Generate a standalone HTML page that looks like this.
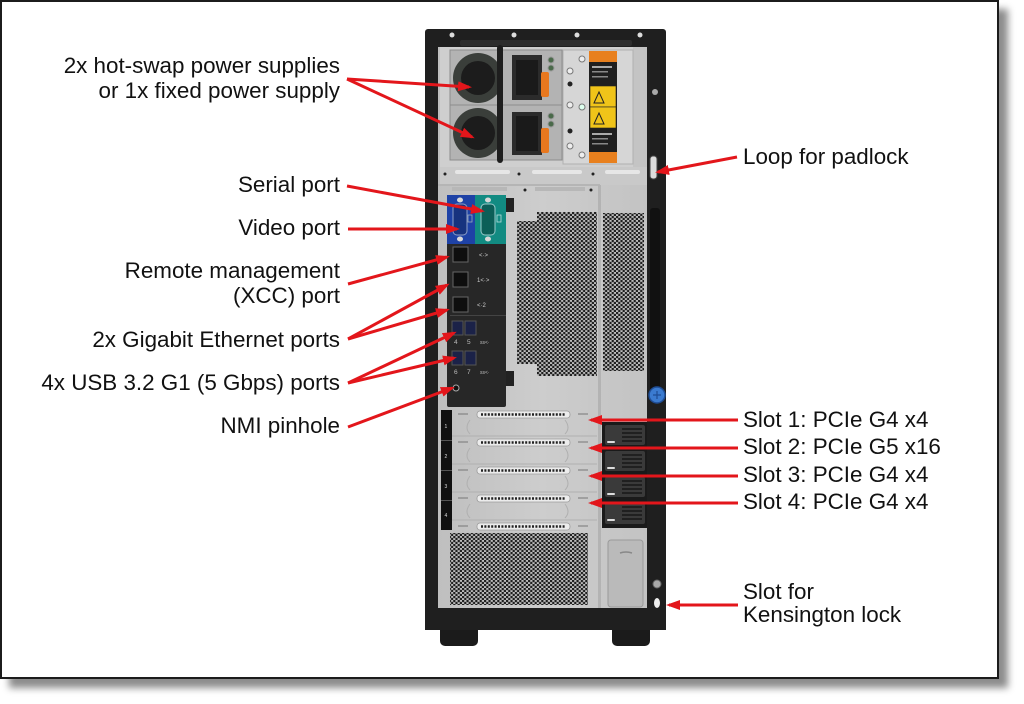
<!DOCTYPE html>
<html><head><meta charset="utf-8"><style>
html,body{margin:0;padding:0;background:#fff;}
body{width:1024px;height:704px;overflow:hidden;position:relative;font-family:"Liberation Sans",Arial,sans-serif;}
.frame{position:absolute;left:0;top:0;width:995px;height:675px;border:2px solid #1c1c1c;background:#fff;box-shadow:9px 9px 7px rgba(0,0,0,0.45);}
svg{position:absolute;left:0;top:0;}
</style></head><body>
<div class="frame"></div>
<svg width="1024" height="704" viewBox="0 0 1024 704" xmlns="http://www.w3.org/2000/svg">
<defs>
<pattern id="mesh" width="4.4" height="4" patternUnits="userSpaceOnUse">
<rect width="4.4" height="4" fill="#bdbdbd"/>
<circle cx="1.1" cy="1" r="1.25" fill="#1e1e1e"/>
<circle cx="3.3" cy="3" r="1.25" fill="#1e1e1e"/>
</pattern>
<marker id="ah" viewBox="0 0 14 10" refX="11" refY="5" markerWidth="14" markerHeight="10" markerUnits="userSpaceOnUse" orient="auto">
<path d="M0,0 L14,5 L0,10 z" fill="#e3161b"/>
</marker>
<linearGradient id="pg" x1="0" y1="0" x2="1" y2="0">
<stop offset="0" stop-color="#bfbfbf"/><stop offset="0.5" stop-color="#cdcdcd"/><stop offset="1" stop-color="#c3c3c3"/>
</linearGradient>
</defs>

<!-- feet -->
<rect x="440" y="622" width="38" height="24" rx="5" fill="#1b1b1b"/>
<rect x="612" y="622" width="38" height="24" rx="5" fill="#1b1b1b"/>
<!-- outer chassis -->
<rect x="425" y="29" width="241" height="601" rx="3" fill="#1f1f1f"/>
<rect x="460" y="40" width="172" height="6" rx="2" fill="#2e2e2e"/>
<circle cx="452" cy="35" r="2.5" fill="#ddd"/>
<circle cx="514" cy="35" r="2.5" fill="#ddd"/>
<circle cx="577" cy="35" r="2.5" fill="#ddd"/>
<circle cx="640" cy="35" r="2.5" fill="#ddd"/>
<!-- inner gray panel -->
<rect x="438" y="47" width="209" height="561" fill="url(#pg)"/>
<!-- PSU bay -->
<rect x="440" y="47" width="193" height="120" fill="#cfcfcf"/>
<rect x="563" y="50" width="70" height="114" fill="#d6d6d6" stroke="#b0b0b0" stroke-width="1"/>
<!-- PSU 1 -->
<rect x="450" y="50" width="112" height="55" fill="#b3b3b3" stroke="#8c8c8c"/>
<circle cx="478" cy="78" r="25" fill="#3a3e3a"/>
<circle cx="478" cy="78" r="17" fill="#1c1c1c"/>
<rect x="512" y="55" width="30" height="45" fill="#2b2b2b"/>
<rect x="516" y="60" width="22" height="35" fill="#1a1a1a"/>
<rect x="541" y="72" width="8" height="25" rx="2" fill="#e8781f"/>
<circle cx="551" cy="60" r="3" fill="#4a6a4a" stroke="#999"/>
<circle cx="551" cy="68" r="3" fill="#4a6a4a" stroke="#999"/>
<!-- PSU 2 -->
<rect x="450" y="105" width="112" height="55" fill="#b3b3b3" stroke="#8c8c8c"/>
<circle cx="478" cy="133" r="25" fill="#3a3e3a"/>
<circle cx="478" cy="133" r="17" fill="#1c1c1c"/>
<rect x="512" y="112" width="30" height="43" fill="#2b2b2b"/>
<rect x="516" y="116" width="22" height="35" fill="#1a1a1a"/>
<rect x="541" y="128" width="8" height="25" rx="2" fill="#e8781f"/>
<circle cx="551" cy="116" r="3" fill="#4a6a4a" stroke="#999"/>
<circle cx="551" cy="124" r="3" fill="#4a6a4a" stroke="#999"/>
<!-- handle -->
<rect x="497" y="45" width="6" height="118" rx="3" fill="#1e1e1e"/>
<!-- screws in PSU area -->
<circle cx="582" cy="59" r="3" fill="#eee" stroke="#777"/>
<circle cx="570" cy="71" r="3" fill="#eee" stroke="#777"/>
<circle cx="570" cy="84" r="2.5" fill="#222"/>
<circle cx="570" cy="105" r="3" fill="#eee" stroke="#777"/>
<circle cx="582" cy="107" r="3" fill="#dfe" stroke="#777"/>
<circle cx="570" cy="131" r="2.5" fill="#222"/>
<circle cx="570" cy="146" r="3" fill="#eee" stroke="#777"/>
<circle cx="582" cy="155" r="3" fill="#eee" stroke="#777"/>
<!-- orange label -->
<rect x="589" y="51" width="28" height="112" fill="#1f1f1f"/>
<rect x="589" y="51" width="28" height="11" fill="#e8801e"/>
<rect x="589" y="152" width="28" height="11" fill="#e8801e"/>
<rect x="590" y="86" width="26" height="21" fill="#f0c419" stroke="#222" stroke-width="0.6"/>
<rect x="590" y="107" width="26" height="21" fill="#f0c419" stroke="#222" stroke-width="0.6"/>
<path d="M594,103 L599,92 L604,103 z" fill="none" stroke="#222"/>
<path d="M594,124 L599,113 L604,124 z" fill="none" stroke="#222"/>
<rect x="592" y="66" width="20" height="2" fill="#aaa"/>
<rect x="592" y="71" width="16" height="1.5" fill="#888"/>
<rect x="592" y="76" width="16" height="1.5" fill="#888"/>
<rect x="592" y="133" width="20" height="2" fill="#aaa"/>
<rect x="592" y="138" width="16" height="1.5" fill="#888"/>
<rect x="592" y="143" width="16" height="1.5" fill="#888"/>
<!-- strip below PSU -->
<rect x="440" y="167" width="207" height="18" fill="#c9c9c9"/>
<rect x="455" y="170" width="55" height="4" rx="2" fill="#e6e6e6"/>
<rect x="532" y="170" width="50" height="4" rx="2" fill="#e6e6e6"/>
<rect x="605" y="170" width="35" height="4" rx="2" fill="#e6e6e6"/>
<circle cx="445" cy="174" r="1.5" fill="#222"/>
<circle cx="519" cy="174" r="1.5" fill="#222"/>
<circle cx="593" cy="174" r="1.5" fill="#222"/>
<rect x="438" y="184" width="162" height="2" fill="#b5b5b5"/>
<rect x="452" y="187" width="55" height="4" fill="#b7b7b7"/>
<rect x="535" y="187" width="50" height="4" fill="#b7b7b7"/>
<circle cx="525" cy="190" r="1.5" fill="#222"/>
<circle cx="591" cy="190" r="1.5" fill="#222"/>
<!-- divider -->
<rect x="598" y="185" width="3" height="423" fill="#b3b3b3"/>
<!-- I/O panel -->
<rect x="447" y="195" width="59" height="212" rx="2" fill="#272727"/>
<rect x="447" y="195" width="28" height="49" fill="#1e42a6"/>
<rect x="475" y="195" width="31" height="49" fill="#128b82"/>
<rect x="453" y="204" width="14" height="31" rx="4" fill="#17337f" stroke="#8fa0c8" stroke-width="1"/>
<ellipse cx="460" cy="200" rx="3" ry="2.5" fill="#d8d8d8"/>
<ellipse cx="460" cy="239" rx="3" ry="2.5" fill="#d8d8d8"/>
<rect x="481" y="204" width="14" height="31" rx="4" fill="#0c5f58" stroke="#9cc" stroke-width="1"/>
<ellipse cx="488" cy="200" rx="3" ry="2.5" fill="#d8d8d8"/>
<ellipse cx="488" cy="239" rx="3" ry="2.5" fill="#d8d8d8"/>
<rect x="468" y="215" width="4" height="7" fill="none" stroke="#9ab" stroke-width="0.8"/>
<rect x="497" y="215" width="4" height="7" fill="none" stroke="#bdd" stroke-width="0.8"/>
<!-- RJ45 -->
<rect x="453" y="247" width="15" height="15" fill="#0e0e0e" stroke="#666"/>
<rect x="453" y="272" width="15" height="15" fill="#0e0e0e" stroke="#666"/>
<rect x="453" y="297" width="15" height="15" fill="#0e0e0e" stroke="#666"/>
<text x="479" y="257" font-size="6" fill="#ccc">&lt;·&gt;</text>
<text x="477" y="282" font-size="6" fill="#ccc">1&lt;·&gt;</text>
<text x="477" y="307" font-size="6" fill="#ccc">&lt;·2</text>
<rect x="450" y="315" width="56" height="1" fill="#444"/>
<!-- USB -->
<rect x="452" y="321" width="11" height="14" fill="#1b2248" stroke="#555"/>
<rect x="465" y="321" width="11" height="14" fill="#1b2248" stroke="#555"/>
<rect x="452" y="351" width="11" height="14" fill="#1b2248" stroke="#555"/>
<rect x="465" y="351" width="11" height="14" fill="#1b2248" stroke="#555"/>
<text x="454" y="344" font-size="6.5" fill="#bbb">4</text>
<text x="467" y="344" font-size="6.5" fill="#bbb">5</text>
<text x="454" y="374" font-size="6.5" fill="#bbb">6</text>
<text x="467" y="374" font-size="6.5" fill="#bbb">7</text>
<text x="480" y="344" font-size="5" fill="#bbb">ss&lt;·</text>
<text x="480" y="374" font-size="5" fill="#bbb">ss&lt;·</text>
<!-- NMI -->
<circle cx="456" cy="388" r="3" fill="#111" stroke="#aaa" stroke-width="1"/>
<!-- clips -->
<rect x="506" y="198" width="8" height="14" fill="#222"/>
<rect x="506" y="371" width="8" height="15" fill="#222"/>
<!-- upper mesh -->
<polygon points="517,221 537,221 537,212 597,212 597,376 537,376 537,364 517,364" fill="url(#mesh)"/>
<rect x="603" y="213" width="41" height="158" fill="url(#mesh)"/>
<!-- right side handle / strip -->
<rect x="650" y="208" width="10" height="192" rx="3" fill="#111"/>
<circle cx="657" cy="395" r="8" fill="#3b7bd0" stroke="#1f4d95" stroke-width="1.5"/>
<path d="M653,395 h8 M657,391 v8" stroke="#1f4d95" stroke-width="1.2"/>
<circle cx="655" cy="92" r="3" fill="#aaa"/>
<!-- padlock loop -->
<rect x="650" y="156" width="7" height="23" rx="3" fill="#dcdcdc" stroke="#444" stroke-width="1"/>
<!-- slot labels -->
<rect x="441" y="410" width="11" height="120" fill="#111"/>
<rect x="441" y="440" width="11" height="1" fill="#555"/>
<rect x="441" y="470" width="11" height="1" fill="#555"/>
<rect x="441" y="500" width="11" height="1" fill="#555"/>
<text x="444.5" y="428" font-size="5" fill="#ddd">1</text>
<text x="444.5" y="458" font-size="5" fill="#ddd">2</text>
<text x="444.5" y="488" font-size="5" fill="#ddd">3</text>
<text x="444.5" y="517" font-size="5" fill="#ddd">4</text>
<!-- slot brackets -->
<g fill="none" stroke="#b0b0b0" stroke-width="1">
<path d="M452,436 H597 M452,464 H597 M452,492 H597 M452,520 H597"/>
<path d="M470,420 q-6,8 0,14 M565,420 q6,8 0,14"/>
<path d="M470,448 q-6,8 0,14 M565,448 q6,8 0,14"/>
<path d="M470,476 q-6,8 0,14 M565,476 q6,8 0,14"/>
<path d="M470,504 q-6,8 0,14 M565,504 q6,8 0,14"/>
</g>
<g>
<rect x="477" y="411" width="93" height="7" rx="3" fill="#ececec" stroke="#9a9a9a" stroke-width="0.8"/>
<rect x="477" y="439" width="93" height="7" rx="3" fill="#ececec" stroke="#9a9a9a" stroke-width="0.8"/>
<rect x="477" y="467" width="93" height="7" rx="3" fill="#ececec" stroke="#9a9a9a" stroke-width="0.8"/>
<rect x="477" y="495" width="93" height="7" rx="3" fill="#ececec" stroke="#9a9a9a" stroke-width="0.8"/>
<rect x="477" y="523" width="93" height="7" rx="3" fill="#ececec" stroke="#9a9a9a" stroke-width="0.8"/>
</g>
<g stroke="#222" stroke-width="2.5" stroke-dasharray="2 1.4">
<path d="M481,414.5 H566 M481,442.5 H566 M481,470.5 H566 M481,498.5 H566 M481,526.5 H566"/>
</g>
<g stroke="#777" stroke-width="1">
<path d="M458,414 h10 M578,414 h10 M458,442 h10 M578,442 h10 M458,470 h10 M578,470 h10 M458,498 h10 M578,498 h10 M458,526 h10 M578,526 h10"/>
</g>
<!-- right latches -->
<rect x="602" y="422" width="45" height="106" fill="#1a1a1a"/>
<g fill="#3a3a3a">
<rect x="605" y="425" width="40" height="20" rx="2"/>
<rect x="605" y="451" width="40" height="20" rx="2"/>
<rect x="605" y="477" width="40" height="20" rx="2"/>
<rect x="605" y="503" width="40" height="21" rx="2"/>
</g>
<g stroke="#111" stroke-width="1.2">
<path d="M622,429 h20 M622,433 h20 M622,437 h20 M622,441 h20"/>
<path d="M622,455 h20 M622,459 h20 M622,463 h20 M622,467 h20"/>
<path d="M622,481 h20 M622,485 h20 M622,489 h20 M622,493 h20"/>
<path d="M622,507 h20 M622,511 h20 M622,515 h20 M622,519 h20"/>
</g>
<g fill="#ddd">
<rect x="607" y="441" width="8" height="2" rx="1"/>
<rect x="607" y="467" width="8" height="2" rx="1"/>
<rect x="607" y="493" width="8" height="2" rx="1"/>
<rect x="607" y="519" width="8" height="2" rx="1"/>
</g>
<!-- bottom mesh -->
<rect x="450" y="533" width="138" height="72" fill="url(#mesh)"/>
<!-- door -->
<rect x="608" y="540" width="35" height="67" rx="3" fill="#bababa" stroke="#9a9a9a"/>
<path d="M620,553 q6,-2 12,0" stroke="#888" fill="none" stroke-width="1.5"/>
<!-- bottom black band -->
<rect x="425" y="608" width="241" height="22" fill="#1f1f1f"/>
<!-- kensington -->
<circle cx="657" cy="584" r="4" fill="#a9a9a9" stroke="#666"/>
<ellipse cx="657" cy="603" rx="3" ry="5" fill="#eee"/>

<!-- arrows -->
<g stroke="#e3161b" stroke-width="3" fill="none" marker-end="url(#ah)">
<line x1="347" y1="79" x2="469" y2="87"/>
<line x1="347" y1="79" x2="472" y2="137"/>
<line x1="347" y1="186" x2="482" y2="211"/>
<line x1="348" y1="229" x2="457" y2="229"/>
<line x1="348" y1="284" x2="447" y2="257"/>
<line x1="348" y1="339" x2="447" y2="285"/>
<line x1="348" y1="339" x2="447" y2="310"/>
<line x1="348" y1="383" x2="454" y2="333"/>
<line x1="348" y1="383" x2="454" y2="358"/>
<line x1="348" y1="427" x2="452" y2="388"/>
<line x1="737" y1="157" x2="658" y2="172"/>
<line x1="738" y1="420" x2="591" y2="420"/>
<line x1="738" y1="448" x2="591" y2="448"/>
<line x1="738" y1="476" x2="591" y2="476"/>
<line x1="738" y1="503" x2="591" y2="503"/>
<line x1="738" y1="605" x2="669" y2="605"/>
</g>

<!-- labels -->
<g font-family="'Liberation Sans', Arial, sans-serif" font-size="22.4" fill="#111" text-anchor="end">
<text x="340" y="73">2x hot-swap power supplies</text>
<text x="340" y="98">or 1x fixed power supply</text>
<text x="340" y="192">Serial port</text>
<text x="340" y="235">Video port</text>
<text x="340" y="278">Remote management</text>
<text x="340" y="303">(XCC) port</text>
<text x="340" y="347">2x Gigabit Ethernet ports</text>
<text x="340" y="390">4x USB 3.2 G1 (5 Gbps) ports</text>
<text x="340" y="433">NMI pinhole</text>
</g>
<g font-family="'Liberation Sans', Arial, sans-serif" font-size="22.4" fill="#111">
<text x="743" y="164">Loop for padlock</text>
<text x="743" y="427">Slot 1: PCIe G4 x4</text>
<text x="743" y="454">Slot 2: PCIe G5 x16</text>
<text x="743" y="482">Slot 3: PCIe G4 x4</text>
<text x="743" y="509">Slot 4: PCIe G4 x4</text>
<text x="743" y="599">Slot for</text>
<text x="743" y="622">Kensington lock</text>
</g>
</svg>
</body></html>
